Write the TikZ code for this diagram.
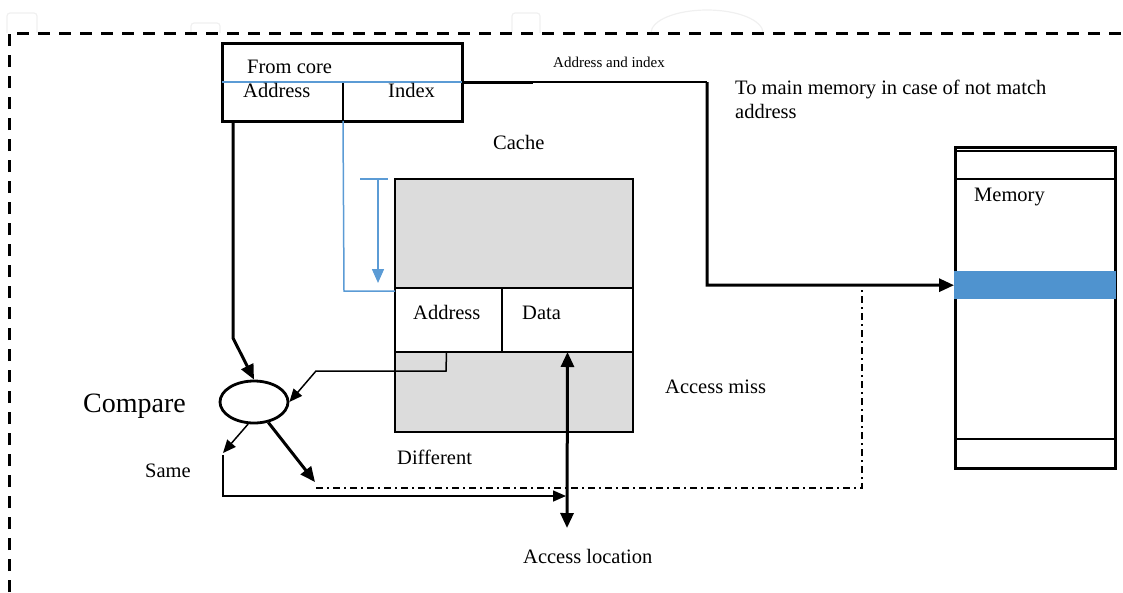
\documentclass[tikz,border=0pt]{standalone}
\usepackage{fontspec}
\setmainfont{Liberation Serif}
\usetikzlibrary{arrows.meta,shapes.geometric}
\definecolor{lblue}{RGB}{91,155,213}
\definecolor{bandblue}{RGB}{79,147,207}
\definecolor{cgray}{RGB}{220,220,220}
\definecolor{ghost}{RGB}{240,240,240}
\begin{document}
\begin{tikzpicture}[x=1pt,y=-1pt,
  box/.style={draw, line width=3pt, inner sep=0pt, outer sep=0pt, anchor=north west},
  cbox/.style={draw, line width=2.6pt, inner sep=0pt, outer sep=0pt, anchor=north west},
  txt/.style={inner sep=0pt, anchor=base west, font=\fontsize{20.5}{24}\selectfont},
  thk/.style={line width=3pt},
  thn/.style={line width=1.5pt},
  bigtip/.style={-{Triangle[length=15pt,width=13pt]}},
  smalltip/.style={-{Triangle[length=13pt,width=11pt]}}]
\useasboundingbox (0,0) rectangle (1123,592);
% faint ghost outlines at the top
\draw[ghost, line width=1.2pt, rounded corners=3pt] (7,33) -- (7,13) -- (37,13) -- (37,33);
\draw[ghost, line width=1.2pt, rounded corners=3pt] (191,33) -- (191,23) -- (220,23) -- (220,33);
\draw[ghost, line width=1.2pt, rounded corners=3pt] (512,33) -- (512,13) -- (540,13) -- (540,33);
\draw[ghost, line width=1.2pt] (651,33) arc[start angle=180, end angle=0, x radius=56pt, y radius=23pt];
% outer dashed frame
\draw[line width=3pt, dash pattern=on 12pt off 9pt] (9,592) -- (9,33) -- (1123,33);
% from core box
\node[box, minimum width=240pt, minimum height=78pt] (core) at (222,43) {};
\coordinate (divt) at (343,82);
\coordinate (divb) at (343,121);
\draw[thn] (divt) -- (divb);
\draw[lblue, line width=1.5pt] (core.west) -- (core.east);
\node[txt] (tfrom) at (247,73) {From core};
\node[txt] (taddr1) at (243,97) {Address};
\node[txt] (tindex) at (388,97) {Index};
% cache
\node[cbox, fill=cgray, minimum width=238pt, minimum height=109pt] (ctop) at (395,179) {};
\node[cbox, minimum width=107pt, minimum height=64pt] (caddr) at (395,288) {};
\node[cbox, minimum width=131pt, minimum height=64pt] (cdata) at (502,288) {};
\node[cbox, fill=cgray, minimum width=238pt, minimum height=80pt] (cbot) at (395,352) {};
\node[txt] (tcache) at (493,149) {Cache};
\node[txt] (taddr2) at (413,319) {Address};
\node[txt] (tdata) at (522,319) {Data};
% memory
\node[box, minimum width=160pt, minimum height=321pt] (mem) at (955,147) {};
\draw[line width=2.6pt] ([yshift=-4pt]mem.north west) -- ([yshift=-4pt]mem.north east);
\draw[line width=2.6pt] ([yshift=-32pt]mem.north west) -- ([yshift=-32pt]mem.north east);
\draw[line width=2.6pt] ([yshift=29pt]mem.south west) -- ([yshift=29pt]mem.south east);
\node[fill=bandblue, inner sep=0pt, anchor=north west, minimum width=162pt, minimum height=28pt] (mband) at (954,271) {};
\node[txt] (tmem) at (974,201) {Memory};
% compare
\node[draw, ellipse, line width=2.8pt, minimum width=68pt, minimum height=42pt, inner sep=0pt] (cmp) at (254,402) {};
\node[txt, font=\fontsize{28}{32}\selectfont] (tcmp) at (83,412) {Compare};
% labels
\node[txt, font=\fontsize{15}{18}\selectfont] (tai) at (553,67) {Address and index};
\node[txt] (tmain1) at (735,94) {To main memory in case of not match};
\node[txt] (tmain2) at (735,118) {address};
\node[txt] (tmiss) at (665,393) {Access miss};
\node[txt] (tdiff) at (397,464) {Different};
\node[txt] (tsame) at (145,477) {Same};
\node[txt] (tloc) at (523,563) {Access location};
% core address -> compare
\coordinate (b1) at (233,338);
\draw[thk, bigtip] ([xshift=11pt]core.south west) -- (b1) -- (cmp.north);
% blue index path into cache
\draw[lblue, line width=1.5pt] (divb) -- (344,291) -- ([yshift=-3pt]ctop.south west);
\draw[lblue, line width=1.5pt] ([xshift=-35pt]ctop.north west) -- ([xshift=-7pt]ctop.north west);
\draw[lblue, line width=1.5pt, -{Triangle[length=14pt,width=12pt]}, shorten >=5pt]
  ([xshift=-17pt]ctop.north west) -- ([xshift=-17pt]ctop.south west);
% address and index to memory
\coordinate (c1) at (533,82);
\coordinate (c2) at (707,82);
\coordinate (c3) at (707,285);
\draw[thk] (core.east) -- (c1);
\draw[thn] (c1) -- (c2);
\draw[thk, bigtip] (c2) -- (c3) -- (mband.west);
% cache address -> compare
\coordinate (a1) at (446,371);
\coordinate (a2) at (316,371);
\draw[thn, smalltip] ([xshift=-2pt]caddr.south) -- (a1) -- (a2) -- (cmp.east);
% same
\coordinate (s0) at (223,453);
\coordinate (s1) at (223,455);
\coordinate (s2) at (223,496);
\coordinate (s3) at (566,496);
\draw[thn, smalltip] (cmp.-105) -- (s0);
\draw[thn, smalltip] (s1) -- (s2) -- (s3);
% different
\coordinate (d0) at (315,482);
\coordinate (d1) at (316,488);
\coordinate (d2) at (862,488);
\coordinate (d3) at (862,285);
\draw[thk, bigtip] (cmp.-55) -- (d0);
\draw[line width=2.7pt, dash pattern=on 7pt off 4pt on 2pt off 4pt] (d1) -- (d2) -- (d3);
% access location
\coordinate (acc) at (567,528);
\draw[thk, {Triangle[length=15pt,width=13pt]}-{Triangle[length=15pt,width=13pt]}] (cdata.south) -- (acc);
\end{tikzpicture}
\end{document}
